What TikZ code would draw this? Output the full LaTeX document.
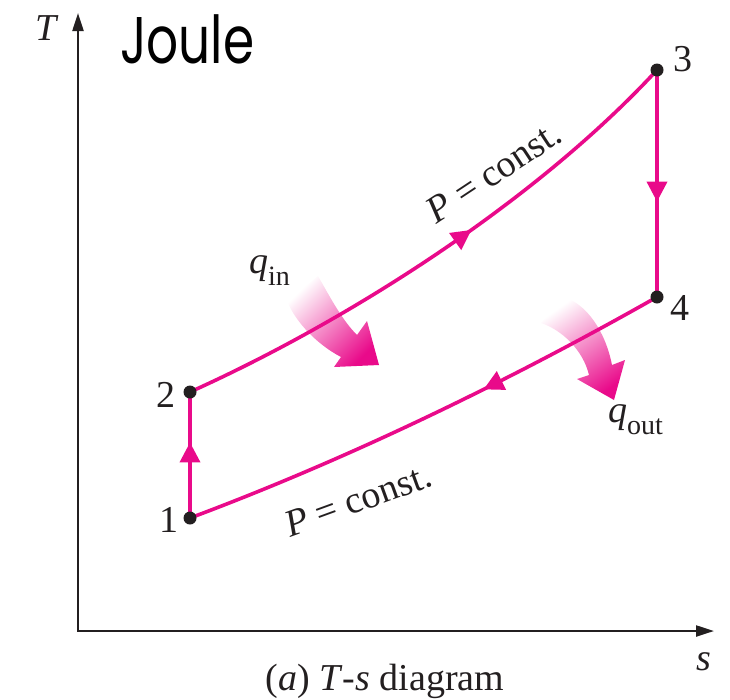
\documentclass[tikz,border=0pt]{standalone}
\usepackage{fontspec}
\setmainfont{Liberation Serif}
\newfontfamily\joulefont{Poppins}
\usetikzlibrary{arrows.meta,decorations.markings}
\definecolor{mag}{RGB}{233,10,138}
\definecolor{ink}{RGB}{35,31,32}
\newcommand{\qlab}[1]{\textit{q}\raisebox{-12pt}{\fontsize{28}{28}\selectfont #1}}
\begin{document}
\begin{tikzpicture}[x=1pt,y=-1pt,
  axis/.style={draw=ink,line width=2.2pt,{Triangle[length=18pt,width=11pt]}-{Triangle[length=18pt,width=11pt]}},
  cyc/.style={draw=mag,line width=3.6pt},
  midarrow/.style={postaction={decorate},decoration={markings,mark=at position #1 with {\arrow{Triangle[length=20pt,width=20pt,color=mag]}}}},
  dot/.style={circle,fill=ink,inner sep=0pt,minimum size=13pt},
  lbl/.style={font=\fontsize{38}{40}\selectfont,text=ink,inner sep=0pt},
  ilbl/.style={font=\fontsize{38}{40}\selectfont\itshape,text=ink,inner sep=0pt},
  heat/.style={top color=white,bottom color=mag},
]
\useasboundingbox (0,0) rectangle (730,699);
\coordinate (c1) at (190,518);
\coordinate (c2) at (190,392);
\coordinate (c3) at (657,70);
\coordinate (c4) at (657,297);
\coordinate (o) at (78,631);
\coordinate (tEnd) at (78,13);
\coordinate (sEnd) at (714,631);
% heat arrows
\shade[heat,shading angle=45] (287,301) .. controls (296,323) and (318,345) .. (341,357) -- (334,367) -- (379,365) -- (367,321) -- (357,335) .. controls (342,320) and (330,297) .. (318,276) -- cycle;
\shade[heat,shading angle=35] (541,323) .. controls (562,330) and (583,350) .. (589,375) -- (577,379) -- (614,400) -- (625,360) -- (612,365) .. controls (605,330) and (586,304) .. (564,297) -- cycle;
% axes
\draw[axis] (tEnd) -- (o) -- (sEnd);
% cycle
\draw[cyc,midarrow=0.6] (c1) -- (c2);
\draw[cyc,midarrow=0.57] (c2) .. controls (350,320) and (537,200) .. (c3);
\draw[cyc,midarrow=0.58] (c3) -- (c4);
\draw[cyc,midarrow=0.38] (c4) .. controls (500,386) and (340,462) .. (c1);
% state points
\node[dot] (n1) at (c1) {};
\node[dot] (n2) at (c2) {};
\node[dot] (n3) at (c3) {};
\node[dot] (n4) at (c4) {};
\node[lbl] (l1) at (169,520) {1};
\node[lbl] (l2) at (166,395) {2};
\node[lbl] (l3) at (683,59) {3};
\node[lbl] (l4) at (680,308) {4};
\node[ilbl] (lT) at (46,28) {T};
\node[ilbl] (ls) at (704,662) {s};
\node[lbl,rotate=33.5] (pu) at (494,172) {\textit{P} = const.};
\node[lbl,rotate=20] (pl) at (358,500) {\textit{P} = const.};
\node[lbl,anchor=base west] (qin) at (249,273) {\qlab{in}};
\node[lbl,anchor=base west] (qout) at (608,422) {\qlab{out}};
\node[lbl,anchor=base] (cap) at (385,690) {(\textit{a}) \textit{T}-\textit{s} diagram};
\node[anchor=base west,inner sep=0pt,font=\joulefont\fontsize{66}{66}\selectfont] (joule) at (120,63) {\scalebox{0.76}[1]{Joule}};
\end{tikzpicture}
\end{document}
